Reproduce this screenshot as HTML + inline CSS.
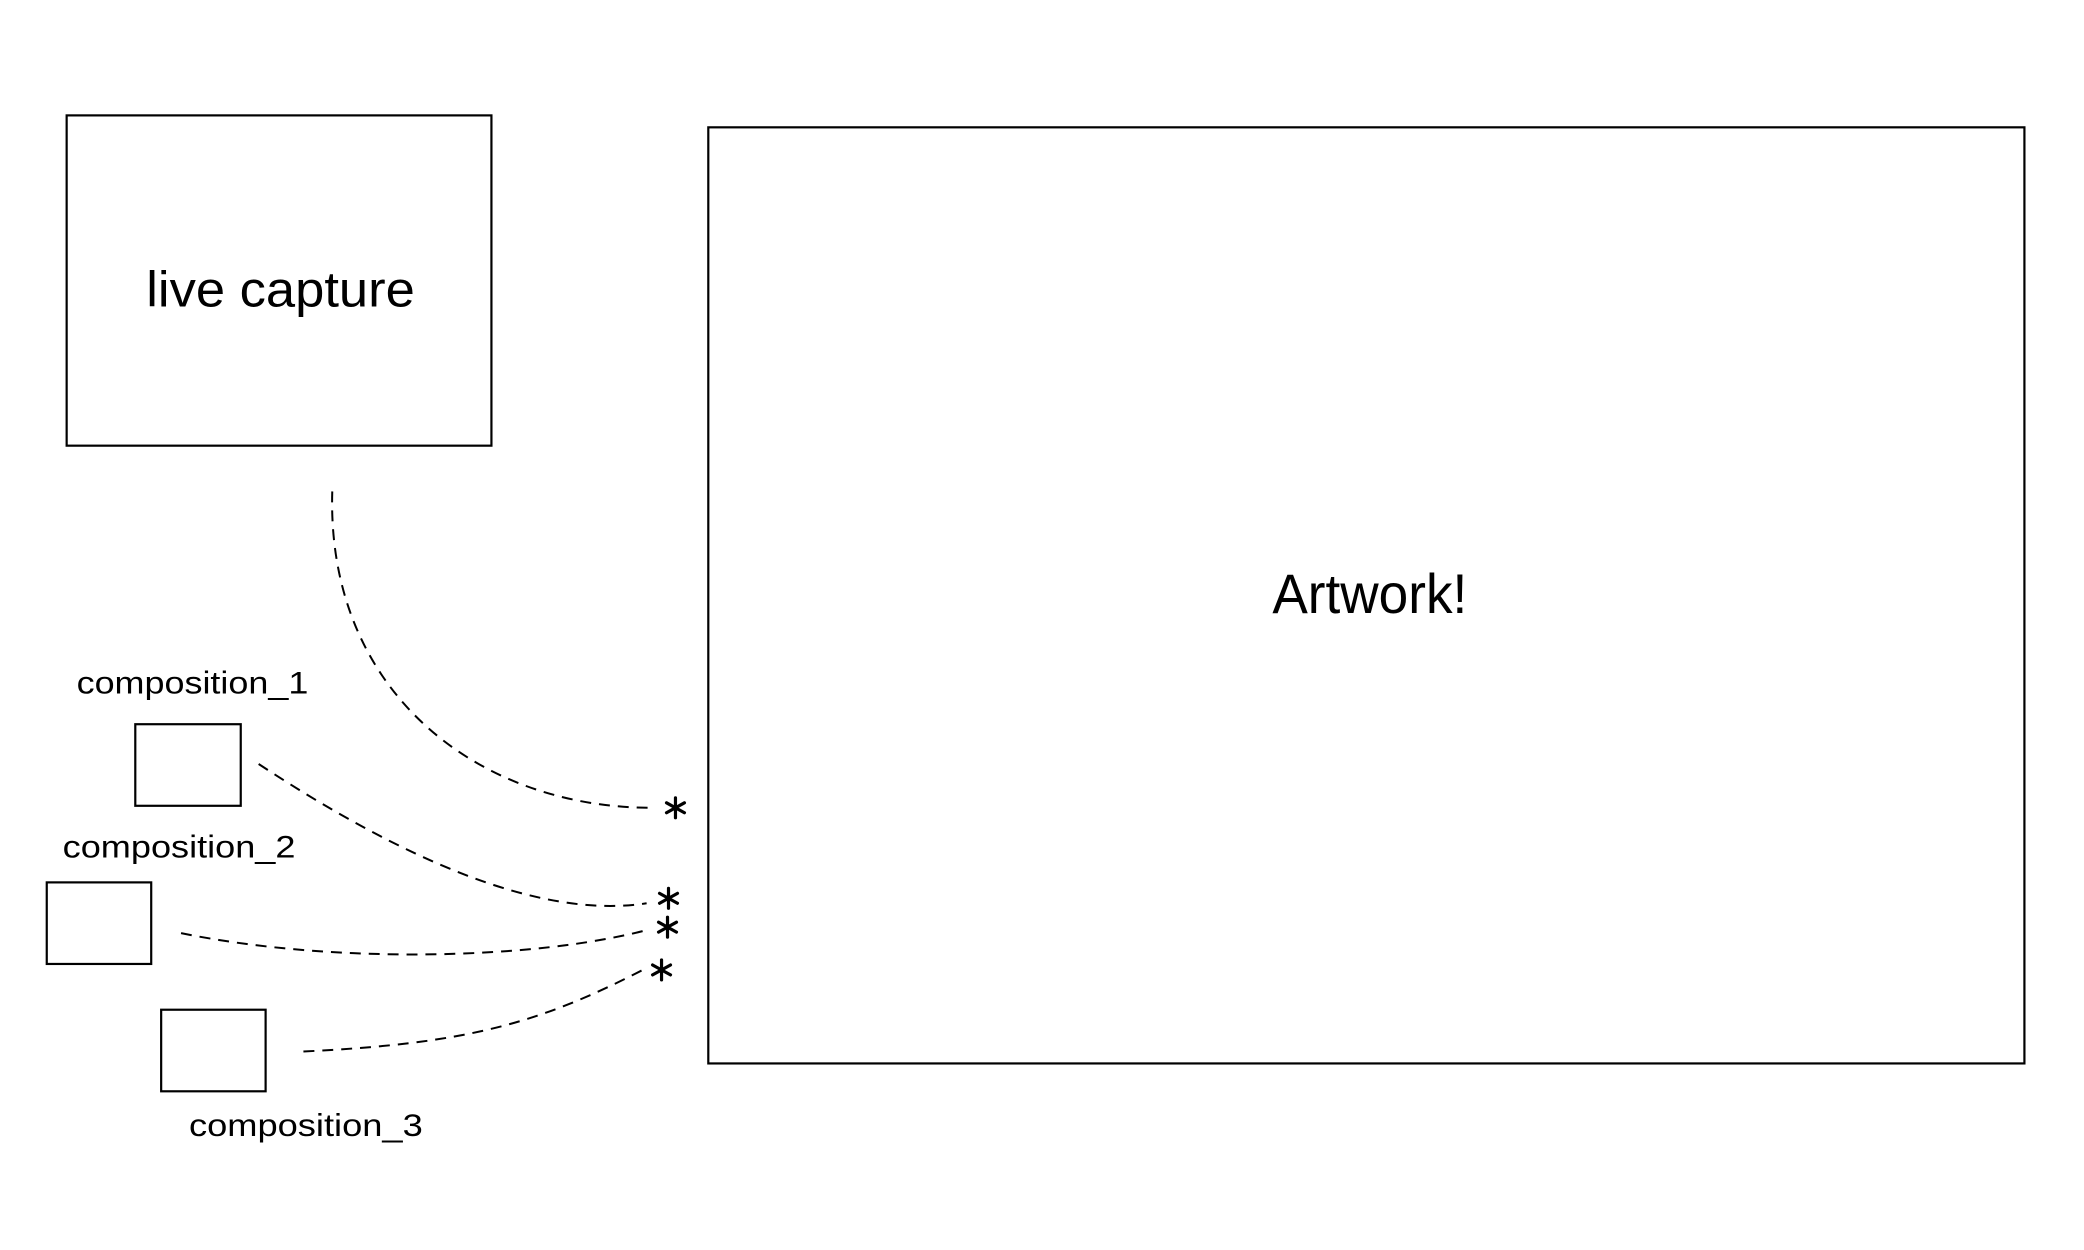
<!DOCTYPE html>
<html><head><meta charset="utf-8"><style>
html,body{margin:0;padding:0;background:#fff;width:2084px;height:1250px;overflow:hidden}
text{font-family:"Liberation Sans",sans-serif;fill:#000}
</style></head><body>
<svg width="2084" height="1250" viewBox="0 0 2084 1250" xmlns="http://www.w3.org/2000/svg">
<defs>
<g id="ast" stroke="#000" stroke-width="3.2" stroke-linecap="round">
<line x1="0" y1="-10" x2="0" y2="10"/>
<line x1="-9" y1="-5" x2="9" y2="5"/>
<line x1="-9" y1="5" x2="9" y2="-5"/>
</g>
</defs>
<g transform="scale(0.9948)">
<g fill="none" stroke="#000" stroke-width="2.2">
<rect x="67" y="116" width="427" height="332"/>
<rect x="712" y="128" width="1323" height="941"/>
<rect x="136" y="728" width="106" height="82"/>
<rect x="47" y="887" width="105" height="82"/>
<rect x="162" y="1015" width="105" height="82"/>
</g>
<text x="282" y="308" font-size="50" text-anchor="middle" textLength="270" lengthAdjust="spacingAndGlyphs">live capture</text>
<text x="1377" y="616" font-size="56" text-anchor="middle" textLength="196" lengthAdjust="spacingAndGlyphs">Artwork!</text>
<text x="77" y="697" font-size="32" textLength="233" lengthAdjust="spacingAndGlyphs">composition_1</text>
<text x="63" y="862" font-size="32" textLength="234" lengthAdjust="spacingAndGlyphs">composition_2</text>
<text x="190" y="1142" font-size="32" textLength="235" lengthAdjust="spacingAndGlyphs">composition_3</text>
<g fill="none" stroke="#000" stroke-width="2" stroke-dasharray="11 8">
<path d="M334 494 C328 695 480 812 655 812"/>
<path d="M260 768 C400 860 540 925 650 908"/>
<path d="M182 938 C334 969 534 965 650 935"/>
<path d="M305 1057 C468 1049 540 1030 650 973"/>
</g>
<use href="#ast" x="679" y="812"/>
<use href="#ast" x="672" y="903"/>
<use href="#ast" x="671" y="932"/>
<use href="#ast" x="665" y="975"/>
</g>
</svg>
</body></html>
